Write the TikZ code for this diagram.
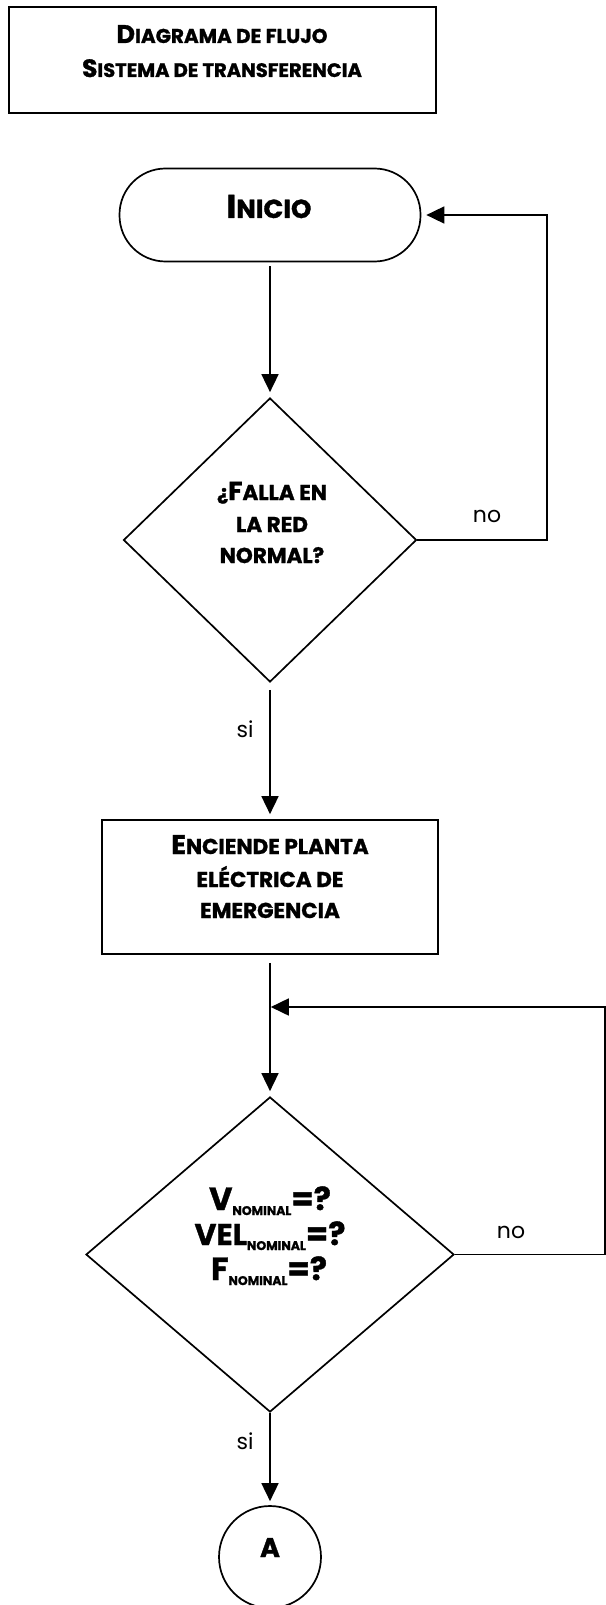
\documentclass[tikz,border=0pt]{standalone}
\usepackage{fontspec}
\setmainfont{Poppins}[BoldFeatures={FakeBold=1.2}]
\usepackage{tikz}
\usetikzlibrary{arrows.meta,shapes.geometric}

% versalitas hechas a mano
\newcommand{\mayus}[2]{{\fontsize{#1}{#1}\selectfont #2}}

\begin{document}
\begin{tikzpicture}[x=1pt, y=-1pt, line width=1.7pt,
    caja/.style={draw, inner sep=0pt},
    texto/.style={font=\bfseries, anchor=base, inner sep=0pt},
    etiq/.style={font=\fontsize{22}{22}\selectfont, anchor=base, inner sep=0pt},
    flecha/.style={-{Triangle[length=18pt,width=17pt]}, shorten >=5pt}]
  \useasboundingbox (0,0) rectangle (605,1605);
  % Titulo
  \node[caja, line width=2.2pt, minimum width=427pt, minimum height=106pt] (titulo) at (222.5,60) {};
  \node[texto] (tit1) at (222,43) {\mayus{25.5}{D}\mayus{20}{IAGRAMA DE FLUJO}};
  \node[texto] (tit2) at (222,77) {\mayus{25}{S}\mayus{19.5}{ISTEMA DE TRANSFERENCIA}};
  % Inicio
  \node[caja, rounded corners=46pt, minimum width=301pt, minimum height=93pt] (inicio) at (270,215) {};
  \node[texto] (tinicio) at (269,218) {\mayus{33}{I}\mayus{26}{NICIO}};
  % Falla en la red
  \node[caja, diamond, minimum width=293pt, minimum height=284pt] (falla) at (270,540) {};
  \node[texto] (f1) at (272,500) {\mayus{21}{¿}\mayus{26}{F}\mayus{21.5}{ALLA EN}};
  \node[texto] (f2) at (272,532) {\mayus{21.5}{LA RED}};
  \node[texto] (f3) at (272,563) {\mayus{21.5}{NORMAL?}};
  % Planta de emergencia
  \node[caja, minimum width=336pt, minimum height=134pt] (planta) at (270,887) {};
  \node[texto] (p1) at (270,854) {\mayus{27}{E}\mayus{21.5}{NCIENDE PLANTA}};
  \node[texto] (p2) at (270,887) {\mayus{21.5}{ELÉCTRICA DE}};
  \node[texto] (p3) at (270,918) {\mayus{21.5}{EMERGENCIA}};
  \coordinate (union) at (270,1007);
  % Valores nominales
  \node[caja, diamond, minimum width=368pt, minimum height=315pt] (valores) at (270,1254.5) {};
  \node[texto] (v1) at (270,1210) {\mayus{32}{V}\raisebox{-5pt}{\mayus{12.5}{NOMINAL}}\mayus{32}{=?}};
  \node[texto] (v2) at (270,1245) {\mayus{30}{VEL}\raisebox{-5pt}{\mayus{12.5}{NOMINAL}}\mayus{32}{=?}};
  \node[texto] (v3) at (269,1280) {\mayus{32}{F}\raisebox{-5pt}{\mayus{12.5}{NOMINAL}}\mayus{32}{=?}};
  % Conector A
  \node[caja, circle, minimum size=102pt] (conA) at (270,1557) {};
  \node[texto] (tA) at (270,1557) {\mayus{27}{A}};
  % Flechas
  \draw[flecha, shorten <=4pt] (inicio) -- (falla);
  \draw[flecha] (falla.east) -- ++(129.5,0) |- (inicio.east);
  \draw[flecha, shorten <=7pt] (falla) -- (planta);
  \draw[flecha, shorten <=8pt] (planta) -- (valores);
  \draw[flecha, shorten >=0.8pt] (valores.east) -- ++(150,0) |- (union);
  \draw[flecha, shorten >=4pt] (valores) -- (conA);
  % Etiquetas
  \node[etiq] (no1) at (487,522) {no};
  \node[etiq] (si1) at (245,737) {si};
  \node[etiq] (no2) at (511,1238) {no};
  \node[etiq] (si2) at (245,1449) {si};
\end{tikzpicture}
\end{document}
